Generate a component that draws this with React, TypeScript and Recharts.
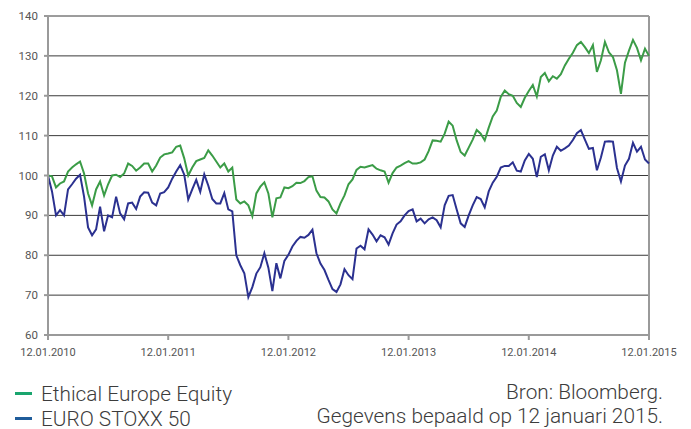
import { LineChart, Line, XAxis, YAxis, CartesianGrid, Legend, ReferenceLine } from 'recharts';

// sampled roughly every ~12 days, index 0 = 12.01.2010, index 150 = 12.01.2015
const ethical = [
  100, 99.8, 97, 98, 98.5, 101, 102, 102.8, 103.5, 100.5,
  95.5, 92.5, 96.5, 98.5, 95, 97.8, 100, 100.2, 99.6, 100.5,
  103, 102.4, 101.2, 102, 103, 103, 101, 102.5, 104.5, 105.3,
  105.5, 105.8, 107.2, 107.5, 104.3, 100, 102, 103.6, 104, 104.4,
  106.3, 105, 103.5, 102, 103, 101, 102, 94, 93, 93.5,
  92.5, 89.8, 95.5, 97.2, 98.3, 95.5, 89.5, 94.3, 94.5, 97,
  96.8, 97.3, 98.2, 98.1, 98.6, 99.6, 99.8, 96.2, 94.6, 94.5,
  93.5, 91.5, 90.5, 93, 95, 97.8, 99, 101.4, 102.2, 102,
  102.3, 102.6, 101.7, 101.3, 101, 98.2, 100.6, 102, 102.5, 103.1,
  103.6, 103, 103, 103.3, 104, 106.1, 108.8, 108.7, 108.5, 110.5,
  113.5, 112.5, 108.8, 105.9, 105, 107, 109, 111.4, 110.5, 108.8,
  112, 114.8, 116.3, 119.7, 121.3, 120.4, 120, 118.2, 117.2, 119.5,
  121.2, 122.7, 119.8, 124.7, 125.7, 123.6, 124.9, 124.3, 125.4, 127.6,
  129.3, 130.8, 132.7, 133.5, 132.2, 130.7, 132.7, 126, 128.9, 133.5,
  130.9, 129.7, 126.4, 120.5, 128.3, 131.3, 134, 132, 128.9, 131.8,
  130,
];

const stoxx = [
  100, 96, 90, 91.3, 90, 96.5, 97.8, 99.2, 100.2, 94.7,
  87, 85, 86.5, 92.2, 86, 90, 89.5, 94.7, 90.5, 89,
  93, 93.2, 91.6, 94.7, 95.8, 95.7, 93.2, 92.5, 95.5, 95.8,
  97, 99.2, 101, 102.6, 100.2, 94, 96.5, 98.9, 95.9, 100.3,
  97.5, 94.1, 93, 93, 95.6, 91.5, 91, 80, 77.5, 75.5,
  69.5, 72, 75.4, 77, 80.5, 76.9, 71, 78, 74.2, 78.6,
  80.1, 82.2, 83.6, 84.6, 84.4, 85.1, 86.4, 80.5, 77.9, 76.3,
  73.8, 71.5, 70.8, 72.7, 76.5, 75, 74, 81.7, 82.4, 81.5,
  86.5, 85.2, 83.5, 85, 84.5, 82.7, 85.5, 87.7, 88.5, 90,
  91.1, 91.5, 88.5, 89.2, 88, 89, 89.5, 88.8, 87, 92.5,
  94.9, 95.1, 91.5, 88, 87.1, 90, 92.5, 94.6, 94.1, 92,
  96, 98.2, 99.7, 102, 102.4, 102.4, 103.3, 101.2, 101, 103.8,
  105.4, 104.2, 99.6, 104.7, 105.3, 101.3, 105, 107.2, 106.2, 106.8,
  107.5, 108.9, 110.6, 111.4, 109, 106.7, 106.9, 101.3, 104.5, 108.5,
  108.6, 108.5, 101.9, 98.5, 102.5, 104.2, 108.2, 106, 107.2, 104,
  103,
];

const dateTicks = [0, 30, 60, 90, 120, 150];
const dateLabels = ['12.01.2010', '12.01.2011', '12.01.2012', '12.01.2013', '12.01.2014', '12.01.2015'];
const valueTicks = [60, 70, 80, 90, 100, 110, 120, 130, 140];

const seriesNames = ['Ethical Europe Equity', 'EURO STOXX 50'];
const lineColors = ['#3b9c47', '#2b3190'];
const legendColors = ['#1aa56e', '#1f5c9a'];
const sourceLines = ['Bron: Bloomberg.', 'Gegevens bepaald op 12 januari 2015.'];

const data = ethical.map((v, i) => ({ i, ethical: v, stoxx: stoxx[i] }));

const font = 'Roboto, "Noto Sans", sans-serif';

const renderLegend = () => (
  <div style={{ position: 'relative', width: 675, height: 64, fontFamily: font, fontWeight: 300 }}>
    <div style={{ position: 'absolute', left: 7, top: 16 }}>
      {seriesNames.map((name, k) => (
        <div key={name} style={{ display: 'flex', alignItems: 'center', height: 25, fontSize: 20.8, color: '#3c3c3c' }}>
          <span style={{ display: 'inline-block', width: 17, height: 3, background: legendColors[k], marginRight: 9 }} />
          {name}
        </div>
      ))}
    </div>
    <div style={{ position: 'absolute', right: 20, top: 15, textAlign: 'right' }}>
      {sourceLines.map((t) => (
        <div key={t} style={{ height: 24, lineHeight: '24px', fontSize: 20.8, color: '#3c3c3c', whiteSpace: 'nowrap' }}>
          {t}
        </div>
      ))}
    </div>
  </div>
);

export default function App() {
  return (
    <LineChart width={675} height={421} data={data} margin={{ top: 8, right: 34, left: 10, bottom: 0 }}>
      <CartesianGrid vertical={false} stroke="#3a3a3a" strokeWidth={1} />
      <XAxis
        dataKey="i"
        type="number"
        domain={[0, 150]}
        ticks={dateTicks}
        tickFormatter={(v: number) => dateLabels[dateTicks.indexOf(v)]}
        height={30}
        stroke="#9a9a9a"
        strokeWidth={2}
        tickSize={5}
        tickMargin={8}
        tick={{ fill: '#555', fontSize: 11, fontFamily: font }}
        interval={0}
      />
      <YAxis
        domain={[60, 140]}
        ticks={valueTicks}
        width={30}
        stroke="#9a9a9a"
        strokeWidth={2}
        tickSize={4}
        tickMargin={6}
        tick={{ fill: '#555', fontSize: 11.5, fontFamily: font }}
        interval={0}
      />
      <ReferenceLine x={150} stroke="#9a9a9a" strokeWidth={2} />
      <Legend verticalAlign="bottom" height={64} content={renderLegend} wrapperStyle={{ left: 0, bottom: 0, width: 675 }} />
      <Line dataKey="ethical" name={seriesNames[0]} stroke={lineColors[0]} strokeWidth={2} dot={false} isAnimationActive={false} />
      <Line dataKey="stoxx" name={seriesNames[1]} stroke={lineColors[1]} strokeWidth={2} dot={false} isAnimationActive={false} />
    </LineChart>
  );
}
